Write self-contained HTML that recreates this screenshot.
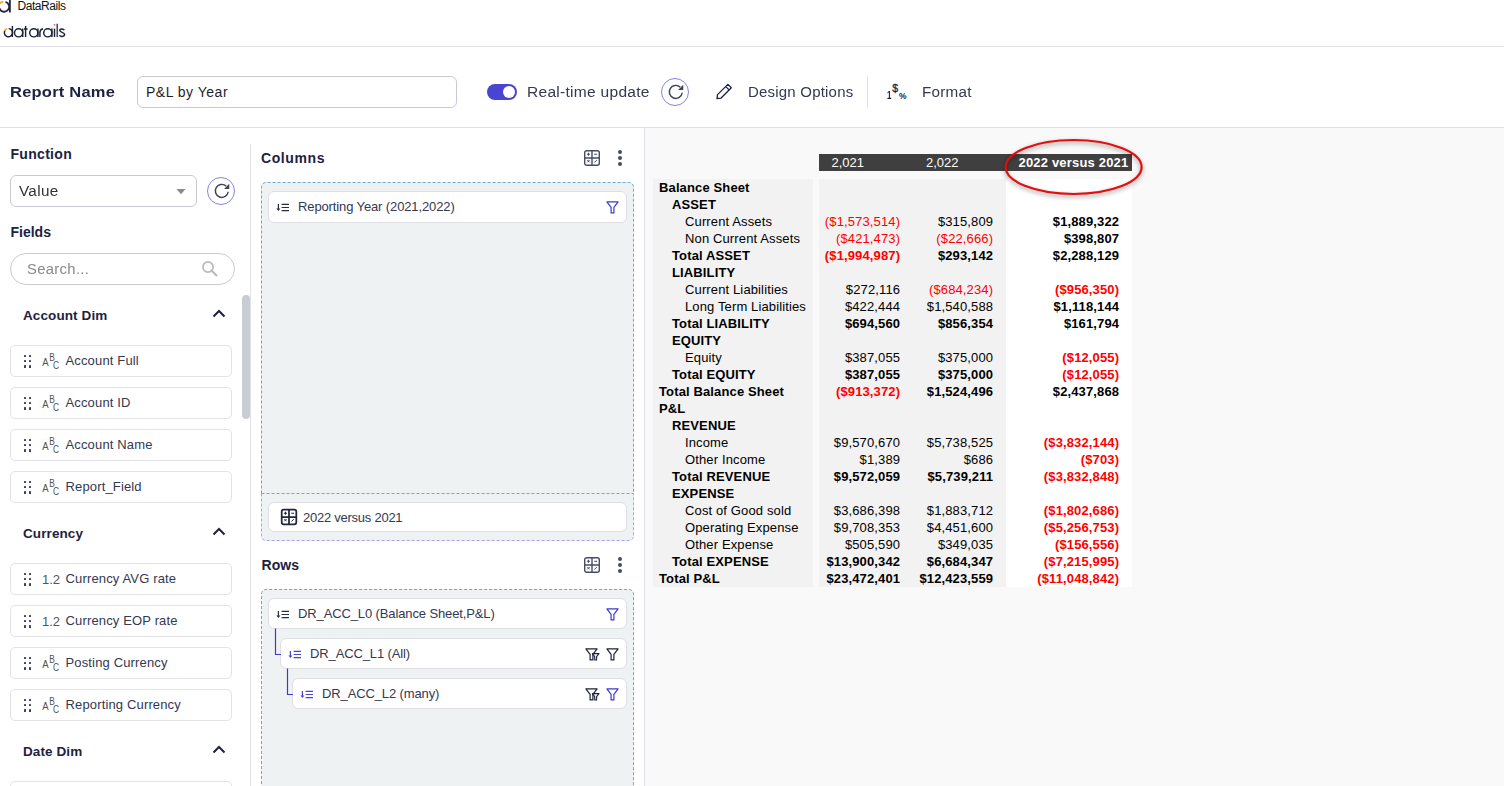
<!DOCTYPE html>
<html><head><meta charset="utf-8"><style>
*{box-sizing:border-box;margin:0;padding:0}
html,body{width:1504px;height:786px;overflow:hidden;background:#fff;font-family:"Liberation Sans",sans-serif;position:relative}
.a{position:absolute}
.t{position:absolute;white-space:pre;line-height:1}
.b{font-weight:bold}
.circ{position:absolute;width:28px;height:28px;border:1px solid #8682ea;border-radius:50%}
.item{position:absolute;background:#fff;border:1px solid #e2e2e8;border-radius:5px}
.dot{position:absolute;width:2.6px;height:2.6px;background:#3d405e;border-radius:0.5px}
svg{position:absolute;overflow:visible}
</style></head><body>
<svg style="left:0;top:0" width="14" height="14" viewBox="0 0 14 14">
<path d="M9.9 -1 V12.6" stroke="#232a40" stroke-width="1.8" fill="none"/>
<path d="M5.5 1.9 A5 5 0 1 1 -0.6 8.2" stroke="#232a40" stroke-width="1.8" fill="none"/>
<path d="M-0.5 3.6 A5 5 0 0 1 3.2 1.9" stroke="#f5a623" stroke-width="1.8" fill="none"/>
</svg>
<div class="t" style="left:17.5px;top:0px;font-size:12px;color:#111;letter-spacing:-0.45px;">DataRails</div>
<svg style="left:0;top:20px" width="70" height="20" viewBox="0 20 70 20">
<g stroke="#1c2038" stroke-width="1.45" fill="none">
<path d="M5.2 30.2 A4.1 4.1 0 1 0 8.7 28.6 "/>
<path d="M12.4 26 V37"/>
<circle cx="18.6" cy="32.8" r="4.1"/><path d="M22.7 28.6 V37"/>
<path d="M25.6 26 V37 M24 29 H27.6"/>
<circle cx="33.8" cy="32.8" r="4.1"/><path d="M37.9 28.6 V37"/>
<path d="M39.9 37 V32.5 A4 4 0 0 1 43 28.7"/>
<circle cx="47.8" cy="32.8" r="4.1"/><path d="M51.9 28.6 V37"/>
<path d="M54.5 28.6 V37"/>
<path d="M57.2 23.8 V37" stroke="#3d4256"/>
<path d="M64.3 30.2 C63.6 28.6 59.8 28.4 59.8 30.6 C59.8 32.6 64.6 32.3 64.6 34.6 C64.6 37 60.2 37 59.5 35.2"/>
</g>
<path d="M4.4 31 A4.1 4.1 0 0 1 7.2 28.7" stroke="#f5a623" stroke-width="1.5" fill="none"/>
<circle cx="54.5" cy="24.8" r="0.9" fill="#ff4d8d"/>
</svg>
<div class="a" style="left:0;top:46px;width:1504px;height:1px;background:#dfe1e6"></div>
<div class="t b" style="left:10px;top:84.2px;font-size:15px;color:#1d2240;letter-spacing:0.2px;transform:scaleX(1.1);transform-origin:0 0;">Report Name</div>
<div class="a" style="left:137px;top:76px;width:320px;height:32px;border:1px solid #c9c9d6;border-radius:6px"></div>
<div class="t" style="left:146px;top:85px;font-size:14px;color:#1f1f2a;letter-spacing:0.5px;">P&amp;L by Year</div>
<div class="a" style="left:487px;top:84px;width:30px;height:16px;border-radius:8px;background:#4a45d1"></div>
<div class="a" style="left:503px;top:86px;width:12px;height:12px;border-radius:50%;background:#fff"></div>
<div class="t" style="left:526.5px;top:85px;font-size:14px;color:#343850;letter-spacing:0.25px;transform:scaleX(1.11);transform-origin:0 0;">Real-time update</div>
<div class="circ" style="left:661px;top:78px"></div>
<svg style="left:664.62px;top:81.02px" width="21.36" height="21.36" viewBox="0 0 24 24"><path d="M17.1 6.9 A7.3 7.3 0 1 0 19.35 13.2" stroke="#3c4257" stroke-width="1.65" fill="none"/><path d="M14.7 10.1 H20.5 V4.3 Z" fill="#3c4257"/></svg>
<svg style="left:712px;top:80px" width="24" height="24" viewBox="0 0 24 24">
<path d="M5 18.7 L5.5 14.6 L15.9 4.4 L19.3 7.8 L8.9 18.2 Z M13.8 6.6 L17.3 10.1" stroke="#1a1f4a" stroke-width="1.3" fill="none" stroke-linejoin="round"/>
</svg>
<div class="t" style="left:748px;top:85px;font-size:14px;color:#343850;letter-spacing:0.2px;transform:scaleX(1.07);transform-origin:0 0;">Design Options</div>
<div class="a" style="left:867px;top:76px;width:1px;height:32px;background:#e0e0e6"></div>
<div class="t b" style="left:886.5px;top:90.8px;font-size:10px;color:#1a1f4a;letter-spacing:0px;transform:scaleX(0.8);transform-origin:0 0;">1</div>
<div class="t" style="left:892.3px;top:83.4px;font-size:10.5px;color:#1a1f4a;letter-spacing:0px;-webkit-text-stroke:0.3px #1a1f4a">$</div>
<div class="t b" style="left:899px;top:91.6px;font-size:8.5px;color:#1a1f4a;letter-spacing:0px;">%</div>
<div class="t" style="left:922px;top:85px;font-size:14px;color:#343850;letter-spacing:0.2px;transform:scaleX(1.09);transform-origin:0 0;">Format</div>
<div class="a" style="left:0;top:127px;width:1504px;height:1px;background:#dfe1e6"></div>
<div class="a" style="left:250px;top:144px;width:1px;height:642px;background:#e3e3e7"></div>
<div class="t b" style="left:10.5px;top:146.7px;font-size:14px;color:#1d2240;letter-spacing:0.3px;">Function</div>
<div class="a" style="left:10px;top:175px;width:187px;height:32px;border:1px solid #c9c9d6;border-radius:6px"></div>
<div class="t" style="left:19px;top:184.3px;font-size:14px;color:#333;letter-spacing:0.3px;transform:scaleX(1.09);transform-origin:0 0;">Value</div>
<svg style="left:176px;top:189px" width="10" height="6" viewBox="0 0 10 6"><path d="M0.5 0 H9.5 L5 5.2 Z" fill="#8a8a8a"/></svg>
<div class="circ" style="left:207px;top:177px"></div>
<svg style="left:210.62px;top:180.02px" width="21.36" height="21.36" viewBox="0 0 24 24"><path d="M17.1 6.9 A7.3 7.3 0 1 0 19.35 13.2" stroke="#3c4257" stroke-width="1.65" fill="none"/><path d="M14.7 10.1 H20.5 V4.3 Z" fill="#3c4257"/></svg>
<div class="t b" style="left:10.5px;top:225.3px;font-size:14px;color:#1d2240;letter-spacing:0px;">Fields</div>
<div class="a" style="left:10px;top:253px;width:225px;height:32px;border:1px solid #c9c9d6;border-radius:16px"></div>
<div class="t" style="left:27px;top:261.6px;font-size:14px;color:#8a8a8a;letter-spacing:0.3px;transform:scaleX(1.06);transform-origin:0 0;">Search...</div>
<svg style="left:200px;top:259px" width="20" height="20" viewBox="0 0 20 20"><circle cx="8" cy="8" r="5.1" stroke="#b9b9b9" stroke-width="1.7" fill="none"/><path d="M11.8 11.8 L17 17" stroke="#b9b9b9" stroke-width="2.1"/></svg>
<div class="a" style="left:242px;top:295px;width:8px;height:124px;border-radius:4px;background:#c9ccd3"></div>
<div class="t b" style="left:23px;top:308.5px;font-size:13.5px;color:#1d2240;letter-spacing:0.1px;">Account Dim</div>
<svg style="left:212px;top:309px" width="14" height="9" viewBox="0 0 14 9"><path d="M1.5 7.5 L7 2 L12.5 7.5" stroke="#1d2240" stroke-width="2" fill="none"/></svg>
<div class="item" style="left:10px;top:345px;width:222px;height:32px"></div>
<div class="dot" style="left:23.5px;top:354.6px"></div>
<div class="dot" style="left:23.5px;top:359.9px"></div>
<div class="dot" style="left:23.5px;top:365.1px"></div>
<div class="dot" style="left:28.6px;top:354.6px"></div>
<div class="dot" style="left:28.6px;top:359.9px"></div>
<div class="dot" style="left:28.6px;top:365.1px"></div>
<svg style="left:41.5px;top:353px" width="18" height="17" viewBox="0 0 18 17"><g fill="#505050" font-family="Liberation Sans" font-size="10.4"><text transform="translate(0.3,13) scale(0.92,1)">A</text><text transform="translate(7.3,8.0) scale(0.8,1)">B</text><text transform="translate(10.9,16.1) scale(0.8,1)">C</text></g></svg>
<div class="t" style="left:65.5px;top:353.9px;font-size:13px;color:#343850;letter-spacing:0.15px;">Account Full</div>
<div class="item" style="left:10px;top:387px;width:222px;height:32px"></div>
<div class="dot" style="left:23.5px;top:396.6px"></div>
<div class="dot" style="left:23.5px;top:401.9px"></div>
<div class="dot" style="left:23.5px;top:407.1px"></div>
<div class="dot" style="left:28.6px;top:396.6px"></div>
<div class="dot" style="left:28.6px;top:401.9px"></div>
<div class="dot" style="left:28.6px;top:407.1px"></div>
<svg style="left:41.5px;top:395px" width="18" height="17" viewBox="0 0 18 17"><g fill="#505050" font-family="Liberation Sans" font-size="10.4"><text transform="translate(0.3,13) scale(0.92,1)">A</text><text transform="translate(7.3,8.0) scale(0.8,1)">B</text><text transform="translate(10.9,16.1) scale(0.8,1)">C</text></g></svg>
<div class="t" style="left:65.5px;top:395.9px;font-size:13px;color:#343850;letter-spacing:0.15px;">Account ID</div>
<div class="item" style="left:10px;top:429px;width:222px;height:32px"></div>
<div class="dot" style="left:23.5px;top:438.6px"></div>
<div class="dot" style="left:23.5px;top:443.9px"></div>
<div class="dot" style="left:23.5px;top:449.1px"></div>
<div class="dot" style="left:28.6px;top:438.6px"></div>
<div class="dot" style="left:28.6px;top:443.9px"></div>
<div class="dot" style="left:28.6px;top:449.1px"></div>
<svg style="left:41.5px;top:437px" width="18" height="17" viewBox="0 0 18 17"><g fill="#505050" font-family="Liberation Sans" font-size="10.4"><text transform="translate(0.3,13) scale(0.92,1)">A</text><text transform="translate(7.3,8.0) scale(0.8,1)">B</text><text transform="translate(10.9,16.1) scale(0.8,1)">C</text></g></svg>
<div class="t" style="left:65.5px;top:437.9px;font-size:13px;color:#343850;letter-spacing:0.15px;">Account Name</div>
<div class="item" style="left:10px;top:471px;width:222px;height:32px"></div>
<div class="dot" style="left:23.5px;top:480.6px"></div>
<div class="dot" style="left:23.5px;top:485.9px"></div>
<div class="dot" style="left:23.5px;top:491.1px"></div>
<div class="dot" style="left:28.6px;top:480.6px"></div>
<div class="dot" style="left:28.6px;top:485.9px"></div>
<div class="dot" style="left:28.6px;top:491.1px"></div>
<svg style="left:41.5px;top:479px" width="18" height="17" viewBox="0 0 18 17"><g fill="#505050" font-family="Liberation Sans" font-size="10.4"><text transform="translate(0.3,13) scale(0.92,1)">A</text><text transform="translate(7.3,8.0) scale(0.8,1)">B</text><text transform="translate(10.9,16.1) scale(0.8,1)">C</text></g></svg>
<div class="t" style="left:65.5px;top:479.9px;font-size:13px;color:#343850;letter-spacing:0.15px;">Report_Field</div>
<div class="t b" style="left:23px;top:526.5px;font-size:13.5px;color:#1d2240;letter-spacing:0.1px;">Currency</div>
<svg style="left:212px;top:527px" width="14" height="9" viewBox="0 0 14 9"><path d="M1.5 7.5 L7 2 L12.5 7.5" stroke="#1d2240" stroke-width="2" fill="none"/></svg>
<div class="item" style="left:10px;top:563px;width:222px;height:32px"></div>
<div class="dot" style="left:23.5px;top:572.6px"></div>
<div class="dot" style="left:23.5px;top:577.9px"></div>
<div class="dot" style="left:23.5px;top:583.1px"></div>
<div class="dot" style="left:28.6px;top:572.6px"></div>
<div class="dot" style="left:28.6px;top:577.9px"></div>
<div class="dot" style="left:28.6px;top:583.1px"></div>
<div class="t" style="left:42px;top:573px;font-size:13px;color:#555;letter-spacing:0px;">1.2</div>
<div class="t" style="left:65.5px;top:571.9px;font-size:13px;color:#343850;letter-spacing:0.15px;">Currency AVG rate</div>
<div class="item" style="left:10px;top:605px;width:222px;height:32px"></div>
<div class="dot" style="left:23.5px;top:614.6px"></div>
<div class="dot" style="left:23.5px;top:619.9px"></div>
<div class="dot" style="left:23.5px;top:625.1px"></div>
<div class="dot" style="left:28.6px;top:614.6px"></div>
<div class="dot" style="left:28.6px;top:619.9px"></div>
<div class="dot" style="left:28.6px;top:625.1px"></div>
<div class="t" style="left:42px;top:615px;font-size:13px;color:#555;letter-spacing:0px;">1.2</div>
<div class="t" style="left:65.5px;top:613.9px;font-size:13px;color:#343850;letter-spacing:0.15px;">Currency EOP rate</div>
<div class="item" style="left:10px;top:647px;width:222px;height:32px"></div>
<div class="dot" style="left:23.5px;top:656.6px"></div>
<div class="dot" style="left:23.5px;top:661.9px"></div>
<div class="dot" style="left:23.5px;top:667.1px"></div>
<div class="dot" style="left:28.6px;top:656.6px"></div>
<div class="dot" style="left:28.6px;top:661.9px"></div>
<div class="dot" style="left:28.6px;top:667.1px"></div>
<svg style="left:41.5px;top:655px" width="18" height="17" viewBox="0 0 18 17"><g fill="#505050" font-family="Liberation Sans" font-size="10.4"><text transform="translate(0.3,13) scale(0.92,1)">A</text><text transform="translate(7.3,8.0) scale(0.8,1)">B</text><text transform="translate(10.9,16.1) scale(0.8,1)">C</text></g></svg>
<div class="t" style="left:65.5px;top:655.9px;font-size:13px;color:#343850;letter-spacing:0.15px;">Posting Currency</div>
<div class="item" style="left:10px;top:689px;width:222px;height:32px"></div>
<div class="dot" style="left:23.5px;top:698.6px"></div>
<div class="dot" style="left:23.5px;top:703.9px"></div>
<div class="dot" style="left:23.5px;top:709.1px"></div>
<div class="dot" style="left:28.6px;top:698.6px"></div>
<div class="dot" style="left:28.6px;top:703.9px"></div>
<div class="dot" style="left:28.6px;top:709.1px"></div>
<svg style="left:41.5px;top:697px" width="18" height="17" viewBox="0 0 18 17"><g fill="#505050" font-family="Liberation Sans" font-size="10.4"><text transform="translate(0.3,13) scale(0.92,1)">A</text><text transform="translate(7.3,8.0) scale(0.8,1)">B</text><text transform="translate(10.9,16.1) scale(0.8,1)">C</text></g></svg>
<div class="t" style="left:65.5px;top:697.9px;font-size:13px;color:#343850;letter-spacing:0.15px;">Reporting Currency</div>
<div class="t b" style="left:23px;top:744.5px;font-size:13.5px;color:#1d2240;letter-spacing:0.1px;">Date Dim</div>
<svg style="left:212px;top:745px" width="14" height="9" viewBox="0 0 14 9"><path d="M1.5 7.5 L7 2 L12.5 7.5" stroke="#1d2240" stroke-width="2" fill="none"/></svg>
<div class="item" style="left:10px;top:781px;width:222px;height:32px"></div>
<div class="a" style="left:644px;top:128px;width:1px;height:658px;background:#dfe1e6"></div>
<div class="t b" style="left:261px;top:150.8px;font-size:14px;color:#1d2240;letter-spacing:0.6px;">Columns</div>
<div class="t b" style="left:261.5px;top:558.2px;font-size:14px;color:#1d2240;letter-spacing:0.1px;">Rows</div>
<svg style="left:584px;top:150px" width="16" height="16" viewBox="0 0 16 16"><g stroke="#474c66" fill="none" stroke-width="1.4"><rect x="0.7" y="0.7" width="14.6" height="14.6" rx="2"/><path d="M8 0.7 V15.3 M0.7 8 H15.3"/><path d="M2.9 4.3 H6 M4.45 2.75 V5.85 M10.2 4.3 H13.1" stroke-width="1.1"/><path d="M3.3 10 L5.6 12.3 M5.6 10 L3.3 12.3 M10.4 12.5 L12.8 10.1" stroke-width="1"/></g></svg>
<div class="a" style="left:618px;top:150px;width:4px;height:4px;border-radius:50%;background:#474c66"></div>
<div class="a" style="left:618px;top:156px;width:4px;height:4px;border-radius:50%;background:#474c66"></div>
<div class="a" style="left:618px;top:162px;width:4px;height:4px;border-radius:50%;background:#474c66"></div>
<svg style="left:584px;top:557px" width="16" height="16" viewBox="0 0 16 16"><g stroke="#474c66" fill="none" stroke-width="1.4"><rect x="0.7" y="0.7" width="14.6" height="14.6" rx="2"/><path d="M8 0.7 V15.3 M0.7 8 H15.3"/><path d="M2.9 4.3 H6 M4.45 2.75 V5.85 M10.2 4.3 H13.1" stroke-width="1.1"/><path d="M3.3 10 L5.6 12.3 M5.6 10 L3.3 12.3 M10.4 12.5 L12.8 10.1" stroke-width="1"/></g></svg>
<div class="a" style="left:618px;top:557px;width:4px;height:4px;border-radius:50%;background:#474c66"></div>
<div class="a" style="left:618px;top:563px;width:4px;height:4px;border-radius:50%;background:#474c66"></div>
<div class="a" style="left:618px;top:569px;width:4px;height:4px;border-radius:50%;background:#474c66"></div>
<div class="a" style="left:261px;top:182px;width:373px;height:359px;background:#eff2f3;border-radius:5px"></div>
<svg style="left:261px;top:182px" width="373" height="360" viewBox="0 0 373 360"><path d="M0.5 311.5 V5 A4.5 4.5 0 0 1 5 0.5 H368 A4.5 4.5 0 0 1 372.5 5 V311.5" stroke="#66acd0" stroke-dasharray="3 2" fill="none"/><path d="M0.5 311.5 V354 A4.5 4.5 0 0 0 5 358.5 H368 A4.5 4.5 0 0 0 372.5 354 V311.5" stroke="#a8a4ec" stroke-dasharray="3 2" fill="none"/><path d="M0.5 311.5 H372.5" stroke="#66acd0" stroke-dasharray="3 2" fill="none"/></svg>
<div class="a" style="left:261px;top:589px;width:373px;height:220px;background:#eff2f3;border-radius:5px"></div>
<svg style="left:261px;top:589px" width="373" height="220" viewBox="0 0 373 220"><path d="M0.5 220 V5 A4.5 4.5 0 0 1 5 0.5 H368 A4.5 4.5 0 0 1 372.5 5 V220" stroke="#66acd0" stroke-dasharray="3 2" fill="none"/></svg>
<div class="item" style="left:268px;top:191px;width:359px;height:32px;border-color:#dedee3;border-radius:6px"></div>
<svg style="left:275.5px;top:202.5px" width="14" height="10" viewBox="0 0 14 10"><g stroke="#2a2d4a" fill="none"><path d="M2.4 1.0 V6.5" stroke-width="1.2"/><path d="M5.6 1.4 H13 M5.6 4.5 H13 M5.6 7.6 H13" stroke-width="1.2"/></g><path d="M0.4 5.6 H4.4 L2.4 8 Z" fill="#2a2d4a"/></svg>
<div class="t" style="left:298px;top:200.3px;font-size:13px;color:#343850;letter-spacing:-0.12px;">Reporting Year (2021,2022)</div>
<svg style="left:605.5px;top:200.5px" width="13" height="13" viewBox="0 0 13 13"><path d="M0.9 0.9 H12.1 L7.9 6.3 V11.9 H5.1 V6.3 Z" stroke="#3f3acb" stroke-width="1.2" fill="none" stroke-linejoin="round"/></svg>
<div class="item" style="left:268px;top:502px;width:359px;height:30px;border-color:#dedee3;border-radius:6px"></div>
<svg style="left:280.5px;top:508.5px" width="16" height="16" viewBox="0 0 16 16"><g stroke="#22253d" fill="none" stroke-width="1.75"><rect x="0.7" y="0.7" width="14.6" height="14.6" rx="2"/><path d="M8 0.7 V15.3 M0.7 8 H15.3"/><path d="M2.9 4.3 H6 M4.45 2.75 V5.85 M10.2 4.3 H13.1" stroke-width="1.1"/><path d="M3.3 10 L5.6 12.3 M5.6 10 L3.3 12.3 M10.4 12.5 L12.8 10.1" stroke-width="1"/></g></svg>
<div class="t" style="left:303px;top:511.3px;font-size:13px;color:#343850;letter-spacing:-0.25px;">2022 versus 2021</div>
<div class="item" style="left:268px;top:598px;width:359px;height:31px;border-color:#dedee3;border-radius:6px"></div>
<svg style="left:275.5px;top:609.5px" width="14" height="10" viewBox="0 0 14 10"><g stroke="#2a2d4a" fill="none"><path d="M2.4 1.0 V6.5" stroke-width="1.2"/><path d="M5.6 1.4 H13 M5.6 4.5 H13 M5.6 7.6 H13" stroke-width="1.2"/></g><path d="M0.4 5.6 H4.4 L2.4 8 Z" fill="#2a2d4a"/></svg>
<div class="t" style="left:298px;top:607.3px;font-size:13px;color:#343850;letter-spacing:-0.12px;">DR_ACC_L0 (Balance Sheet,P&amp;L)</div>
<svg style="left:605.5px;top:607.5px" width="13" height="13" viewBox="0 0 13 13"><path d="M0.9 0.9 H12.1 L7.9 6.3 V11.9 H5.1 V6.3 Z" stroke="#3f3acb" stroke-width="1.2" fill="none" stroke-linejoin="round"/></svg>
<div class="item" style="left:280px;top:638px;width:347px;height:31px;border-color:#dedee3;border-radius:6px"></div>
<svg style="left:287.5px;top:649.5px" width="14" height="10" viewBox="0 0 14 10"><g stroke="#4a45d1" fill="none"><path d="M2.4 1.0 V6.5" stroke-width="1.2"/><path d="M5.6 1.4 H13 M5.6 4.5 H13 M5.6 7.6 H13" stroke-width="1.2"/></g><path d="M0.4 5.6 H4.4 L2.4 8 Z" fill="#4a45d1"/></svg>
<div class="t" style="left:310px;top:647.3px;font-size:13px;color:#343850;letter-spacing:-0.12px;">DR_ACC_L1 (All)</div>
<svg style="left:584.5px;top:647.5px" width="15" height="13" viewBox="0 0 15 13"><path d="M0.9 0.9 H12.1 L7.9 6.3 V11.9 H5.1 V6.3 Z" stroke="#1e2238" stroke-width="1.2" fill="none" stroke-linejoin="round"/><path d="M7.4 5.6 H14 L11.6 8.6 V12 H9.7 V8.6 Z" stroke="#1e2238" stroke-width="1.1" fill="#fff" stroke-linejoin="round"/></svg>
<svg style="left:605.5px;top:647.5px" width="13" height="13" viewBox="0 0 13 13"><path d="M0.9 0.9 H12.1 L7.9 6.3 V11.9 H5.1 V6.3 Z" stroke="#1e2238" stroke-width="1.2" fill="none" stroke-linejoin="round"/></svg>
<div class="item" style="left:292px;top:678px;width:335px;height:31px;border-color:#dedee3;border-radius:6px"></div>
<svg style="left:299.5px;top:689.5px" width="14" height="10" viewBox="0 0 14 10"><g stroke="#4a45d1" fill="none"><path d="M2.4 1.0 V6.5" stroke-width="1.2"/><path d="M5.6 1.4 H13 M5.6 4.5 H13 M5.6 7.6 H13" stroke-width="1.2"/></g><path d="M0.4 5.6 H4.4 L2.4 8 Z" fill="#4a45d1"/></svg>
<div class="t" style="left:322px;top:687.3px;font-size:13px;color:#343850;letter-spacing:-0.12px;">DR_ACC_L2 (many)</div>
<svg style="left:584.5px;top:687.5px" width="15" height="13" viewBox="0 0 15 13"><path d="M0.9 0.9 H12.1 L7.9 6.3 V11.9 H5.1 V6.3 Z" stroke="#1e2238" stroke-width="1.2" fill="none" stroke-linejoin="round"/><path d="M7.4 5.6 H14 L11.6 8.6 V12 H9.7 V8.6 Z" stroke="#1e2238" stroke-width="1.1" fill="#fff" stroke-linejoin="round"/></svg>
<svg style="left:605.5px;top:687.5px" width="13" height="13" viewBox="0 0 13 13"><path d="M0.9 0.9 H12.1 L7.9 6.3 V11.9 H5.1 V6.3 Z" stroke="#3f3acb" stroke-width="1.2" fill="none" stroke-linejoin="round"/></svg>
<svg style="left:270px;top:625px" width="30" height="80" viewBox="0 0 30 80"><path d="M5.5 3.5 V29.5 H11 M17.5 43.5 V69.5 H23" stroke="#3f3acb" stroke-width="1.2" fill="none"/></svg>
<div class="a" style="left:645px;top:128px;width:859px;height:658px;background:#f9f9f9"></div>
<div class="a" style="left:653px;top:179px;width:160px;height:408px;background:#f2f2f2"></div>
<div class="a" style="left:819px;top:179px;width:187px;height:408px;background:#f2f2f2"></div>
<div class="a" style="left:1006px;top:179px;width:126px;height:408px;background:#ffffff"></div>
<div class="a" style="left:819px;top:154px;width:313px;height:17px;background:#3f3f3f"></div>
<div class="t" style="left:831.5px;top:156px;font-size:13px;color:#fff;letter-spacing:0px;">2,021</div>
<div class="t" style="left:926px;top:156px;font-size:13px;color:#fff;letter-spacing:0px;">2,022</div>
<div class="t b" style="left:1018.5px;top:156px;font-size:13px;color:#fff;letter-spacing:0.18px;">2022 versus 2021</div>
<div class="t b" style="left:659px;top:181px;font-size:13px;color:#000;letter-spacing:0.13px;">Balance Sheet</div>
<div class="t b" style="left:672px;top:198px;font-size:13px;color:#000;letter-spacing:0.13px;">ASSET</div>
<div class="t" style="left:685px;top:215px;font-size:13px;color:#000;letter-spacing:0.13px;">Current Assets</div>
<div class="t" style="right:603.87px;top:215px;font-size:13px;letter-spacing:0.13px;color:#ff0000">($1,573,514)</div>
<div class="t" style="right:510.87px;top:215px;font-size:13px;letter-spacing:0.13px;color:#000">$315,809</div>
<div class="t b" style="right:384.87px;top:215px;font-size:13px;letter-spacing:0.13px;color:#000">$1,889,322</div>
<div class="t" style="left:685px;top:232px;font-size:13px;color:#000;letter-spacing:0.13px;">Non Current Assets</div>
<div class="t" style="right:603.87px;top:232px;font-size:13px;letter-spacing:0.13px;color:#ff0000">($421,473)</div>
<div class="t" style="right:510.87px;top:232px;font-size:13px;letter-spacing:0.13px;color:#ff0000">($22,666)</div>
<div class="t b" style="right:384.87px;top:232px;font-size:13px;letter-spacing:0.13px;color:#000">$398,807</div>
<div class="t b" style="left:672px;top:249px;font-size:13px;color:#000;letter-spacing:0.13px;">Total ASSET</div>
<div class="t b" style="right:603.87px;top:249px;font-size:13px;letter-spacing:0.13px;color:#ff0000">($1,994,987)</div>
<div class="t b" style="right:510.87px;top:249px;font-size:13px;letter-spacing:0.13px;color:#000">$293,142</div>
<div class="t b" style="right:384.87px;top:249px;font-size:13px;letter-spacing:0.13px;color:#000">$2,288,129</div>
<div class="t b" style="left:672px;top:266px;font-size:13px;color:#000;letter-spacing:0.13px;">LIABILITY</div>
<div class="t" style="left:685px;top:283px;font-size:13px;color:#000;letter-spacing:0.13px;">Current Liabilities</div>
<div class="t" style="right:603.87px;top:283px;font-size:13px;letter-spacing:0.13px;color:#000">$272,116</div>
<div class="t" style="right:510.87px;top:283px;font-size:13px;letter-spacing:0.13px;color:#ff0000">($684,234)</div>
<div class="t b" style="right:384.87px;top:283px;font-size:13px;letter-spacing:0.13px;color:#ff0000">($956,350)</div>
<div class="t" style="left:685px;top:300px;font-size:13px;color:#000;letter-spacing:0.13px;">Long Term Liabilities</div>
<div class="t" style="right:603.87px;top:300px;font-size:13px;letter-spacing:0.13px;color:#000">$422,444</div>
<div class="t" style="right:510.87px;top:300px;font-size:13px;letter-spacing:0.13px;color:#000">$1,540,588</div>
<div class="t b" style="right:384.87px;top:300px;font-size:13px;letter-spacing:0.13px;color:#000">$1,118,144</div>
<div class="t b" style="left:672px;top:317px;font-size:13px;color:#000;letter-spacing:0.13px;">Total LIABILITY</div>
<div class="t b" style="right:603.87px;top:317px;font-size:13px;letter-spacing:0.13px;color:#000">$694,560</div>
<div class="t b" style="right:510.87px;top:317px;font-size:13px;letter-spacing:0.13px;color:#000">$856,354</div>
<div class="t b" style="right:384.87px;top:317px;font-size:13px;letter-spacing:0.13px;color:#000">$161,794</div>
<div class="t b" style="left:672px;top:334px;font-size:13px;color:#000;letter-spacing:0.13px;">EQUITY</div>
<div class="t" style="left:685px;top:351px;font-size:13px;color:#000;letter-spacing:0.13px;">Equity</div>
<div class="t" style="right:603.87px;top:351px;font-size:13px;letter-spacing:0.13px;color:#000">$387,055</div>
<div class="t" style="right:510.87px;top:351px;font-size:13px;letter-spacing:0.13px;color:#000">$375,000</div>
<div class="t b" style="right:384.87px;top:351px;font-size:13px;letter-spacing:0.13px;color:#ff0000">($12,055)</div>
<div class="t b" style="left:672px;top:368px;font-size:13px;color:#000;letter-spacing:0.13px;">Total EQUITY</div>
<div class="t b" style="right:603.87px;top:368px;font-size:13px;letter-spacing:0.13px;color:#000">$387,055</div>
<div class="t b" style="right:510.87px;top:368px;font-size:13px;letter-spacing:0.13px;color:#000">$375,000</div>
<div class="t b" style="right:384.87px;top:368px;font-size:13px;letter-spacing:0.13px;color:#ff0000">($12,055)</div>
<div class="t b" style="left:659px;top:385px;font-size:13px;color:#000;letter-spacing:0.13px;">Total Balance Sheet</div>
<div class="t b" style="right:603.87px;top:385px;font-size:13px;letter-spacing:0.13px;color:#ff0000">($913,372)</div>
<div class="t b" style="right:510.87px;top:385px;font-size:13px;letter-spacing:0.13px;color:#000">$1,524,496</div>
<div class="t b" style="right:384.87px;top:385px;font-size:13px;letter-spacing:0.13px;color:#000">$2,437,868</div>
<div class="t b" style="left:659px;top:402px;font-size:13px;color:#000;letter-spacing:0.13px;">P&amp;L</div>
<div class="t b" style="left:672px;top:419px;font-size:13px;color:#000;letter-spacing:0.13px;">REVENUE</div>
<div class="t" style="left:685px;top:436px;font-size:13px;color:#000;letter-spacing:0.13px;">Income</div>
<div class="t" style="right:603.87px;top:436px;font-size:13px;letter-spacing:0.13px;color:#000">$9,570,670</div>
<div class="t" style="right:510.87px;top:436px;font-size:13px;letter-spacing:0.13px;color:#000">$5,738,525</div>
<div class="t b" style="right:384.87px;top:436px;font-size:13px;letter-spacing:0.13px;color:#ff0000">($3,832,144)</div>
<div class="t" style="left:685px;top:453px;font-size:13px;color:#000;letter-spacing:0.13px;">Other Income</div>
<div class="t" style="right:603.87px;top:453px;font-size:13px;letter-spacing:0.13px;color:#000">$1,389</div>
<div class="t" style="right:510.87px;top:453px;font-size:13px;letter-spacing:0.13px;color:#000">$686</div>
<div class="t b" style="right:384.87px;top:453px;font-size:13px;letter-spacing:0.13px;color:#ff0000">($703)</div>
<div class="t b" style="left:672px;top:470px;font-size:13px;color:#000;letter-spacing:0.13px;">Total REVENUE</div>
<div class="t b" style="right:603.87px;top:470px;font-size:13px;letter-spacing:0.13px;color:#000">$9,572,059</div>
<div class="t b" style="right:510.87px;top:470px;font-size:13px;letter-spacing:0.13px;color:#000">$5,739,211</div>
<div class="t b" style="right:384.87px;top:470px;font-size:13px;letter-spacing:0.13px;color:#ff0000">($3,832,848)</div>
<div class="t b" style="left:672px;top:487px;font-size:13px;color:#000;letter-spacing:0.13px;">EXPENSE</div>
<div class="t" style="left:685px;top:504px;font-size:13px;color:#000;letter-spacing:0.13px;">Cost of Good sold</div>
<div class="t" style="right:603.87px;top:504px;font-size:13px;letter-spacing:0.13px;color:#000">$3,686,398</div>
<div class="t" style="right:510.87px;top:504px;font-size:13px;letter-spacing:0.13px;color:#000">$1,883,712</div>
<div class="t b" style="right:384.87px;top:504px;font-size:13px;letter-spacing:0.13px;color:#ff0000">($1,802,686)</div>
<div class="t" style="left:685px;top:521px;font-size:13px;color:#000;letter-spacing:0.13px;">Operating Expense</div>
<div class="t" style="right:603.87px;top:521px;font-size:13px;letter-spacing:0.13px;color:#000">$9,708,353</div>
<div class="t" style="right:510.87px;top:521px;font-size:13px;letter-spacing:0.13px;color:#000">$4,451,600</div>
<div class="t b" style="right:384.87px;top:521px;font-size:13px;letter-spacing:0.13px;color:#ff0000">($5,256,753)</div>
<div class="t" style="left:685px;top:538px;font-size:13px;color:#000;letter-spacing:0.13px;">Other Expense</div>
<div class="t" style="right:603.87px;top:538px;font-size:13px;letter-spacing:0.13px;color:#000">$505,590</div>
<div class="t" style="right:510.87px;top:538px;font-size:13px;letter-spacing:0.13px;color:#000">$349,035</div>
<div class="t b" style="right:384.87px;top:538px;font-size:13px;letter-spacing:0.13px;color:#ff0000">($156,556)</div>
<div class="t b" style="left:672px;top:555px;font-size:13px;color:#000;letter-spacing:0.13px;">Total EXPENSE</div>
<div class="t b" style="right:603.87px;top:555px;font-size:13px;letter-spacing:0.13px;color:#000">$13,900,342</div>
<div class="t b" style="right:510.87px;top:555px;font-size:13px;letter-spacing:0.13px;color:#000">$6,684,347</div>
<div class="t b" style="right:384.87px;top:555px;font-size:13px;letter-spacing:0.13px;color:#ff0000">($7,215,995)</div>
<div class="t b" style="left:659px;top:572px;font-size:13px;color:#000;letter-spacing:0.13px;">Total P&amp;L</div>
<div class="t b" style="right:603.87px;top:572px;font-size:13px;letter-spacing:0.13px;color:#000">$23,472,401</div>
<div class="t b" style="right:510.87px;top:572px;font-size:13px;letter-spacing:0.13px;color:#000">$12,423,559</div>
<div class="t b" style="right:384.87px;top:572px;font-size:13px;letter-spacing:0.13px;color:#ff0000">($11,048,842)</div>
<svg style="left:995px;top:130px" width="160" height="75" viewBox="995 130 160 75"><defs><filter id="sh" x="-20%" y="-40%" width="140%" height="180%"><feGaussianBlur stdDeviation="2.2"/></filter></defs><ellipse cx="1073.6" cy="167" rx="68" ry="27" stroke="#000" stroke-opacity="0.3" stroke-width="3" fill="none" filter="url(#sh)" transform="translate(0,2)"/><ellipse cx="1073.6" cy="167" rx="68" ry="27" stroke="#e30f0f" stroke-width="2.2" fill="none"/></svg>
</body></html>
